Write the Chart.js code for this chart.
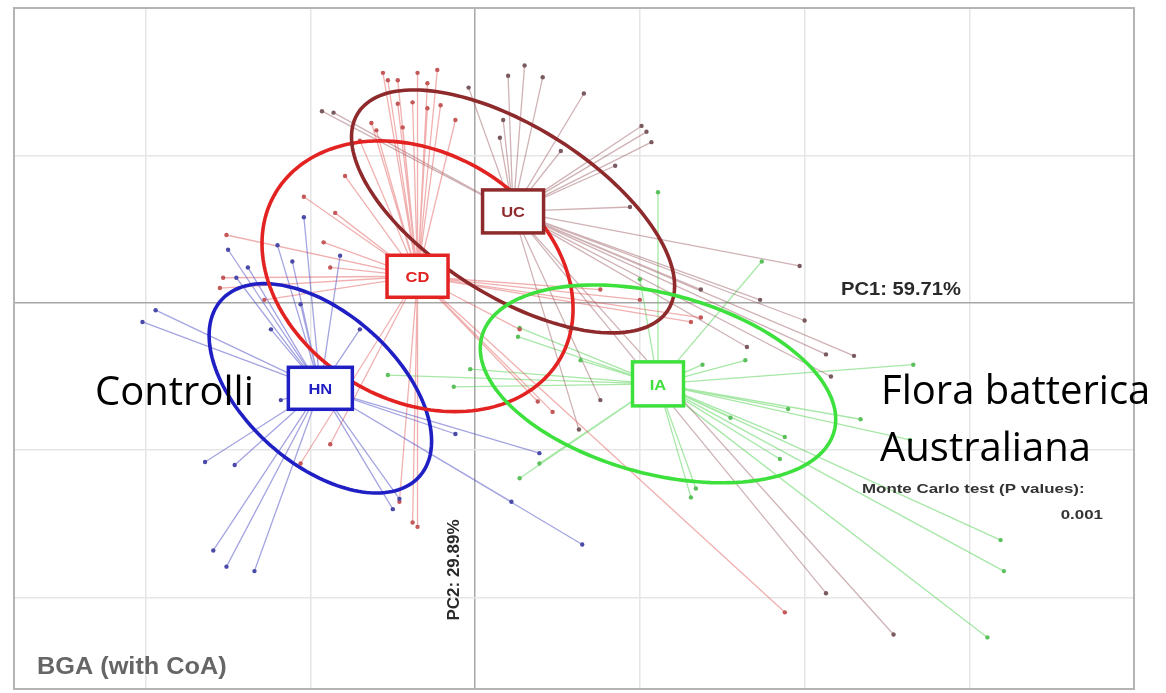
<!DOCTYPE html>
<html><head><meta charset="utf-8">
<script src="https://cdn.jsdelivr.net/npm/chart.js@4.4.1/dist/chart.umd.min.js"></script>
<style>html,body{margin:0;padding:0;background:#fff;}canvas{display:block;}</style>
</head><body>
<canvas id="c" width="1166" height="693"></canvas>
<script>
// ---- tick positions ----
const xTicks = [-2, -1, 0, 1, 2, 3, 4];
const yTicks = [-2, -1, 0, 1, 2];
// ---- groups ----
const groupNames = ['HN', 'CD', 'UC', 'IA'];
const centerX = [-0.94, -0.35, 0.23, 1.11];
const centerY = [-0.58, 0.18, 0.62, -0.55];
// ---- sample scores (PC1, PC2) ----
const hnX = [-1.04,-1.20,-1.50,-1.11,-0.82,-1.45,-1.38,-1.94,-2.02,-1.64,-1.46,-1.59,-1.51,-1.34,-0.50,-0.46,-1.18,0.65,0.22,-0.12,0.39,-1.06,-1.24,-0.70];
const hnY = [0.58,0.39,0.36,0.28,0.32,0.17,0.24,-0.05,-0.13,-1.08,-1.10,-1.68,-1.79,-1.82,-1.40,-1.33,-0.66,-1.64,-1.35,-0.89,-1.02,-0.01,-0.18,-0.18];
const cdX = [-0.56,-0.53,-0.47,-0.35,-0.29,-0.23,-0.63,-0.47,-0.38,-0.29,-0.21,-0.44,-0.60,-1.51,-1.04,-0.85,-0.92,-0.88,-1.53,-1.55,-1.06,-0.38,-0.46,-0.35,-0.88,1.37,1.31,0.38,0.47,1.88,0.27,-0.70,-0.12,-0.79,-1.28,0.76,1.00];
const cdY = [1.56,1.51,1.51,1.56,1.49,1.58,1.22,1.35,1.36,1.32,1.34,1.19,1.17,0.46,0.72,0.61,0.41,0.24,0.17,0.10,-1.09,-1.49,-1.35,-1.52,-0.96,-0.10,-0.13,-0.67,-0.74,-2.10,-0.18,1.10,1.24,0.86,0.02,0.09,0.02];
const ucX = [0.20,0.30,0.41,0.66,0.15,0.17,1.01,1.04,1.07,0.94,1.97,2.00,1.65,2.13,2.30,2.16,-0.93,-0.86,2.54,2.13,0.63,0.76,-0.04,0.52,0.85,1.37,1.73];
const ucY = [1.54,1.61,1.53,1.42,1.12,1.24,1.20,1.16,1.09,0.65,0.25,-0.12,-0.30,-0.35,-0.36,-0.50,1.30,1.29,-2.25,-1.97,-0.86,-0.66,1.46,1.03,0.93,0.09,0.02];
const iaX = [1.74,1.11,2.66,3.19,3.21,3.11,1.38,1.64,1.90,1.88,1.85,1.55,0.27,0.26,-0.13,-0.53,0.27,0.39,1.31,1.34,2.64,2.34,1.00,0.64,-0.03];
const iaY = [0.28,0.75,-0.42,-1.61,-1.82,-2.27,-0.42,-0.39,-0.72,-0.91,-1.06,-0.78,-0.17,-0.23,-0.57,-0.49,-1.19,-1.09,-1.32,-1.26,-0.93,-0.79,0.16,-0.39,-0.45];
// ---- ellipse half-axis vectors (data units) ----
const ellAx = [0.60, 0.86, 0.94, 1.07];
const ellAy = [-0.60, -0.57, -0.67, -0.32];
const ellBx = [-0.31, -0.39, -0.28, -0.14];
const ellBy = [-0.38, -0.72, -0.48, -0.59];
// ---- styles ----
const ellColor = ['#1f1fc4', '#e32222', '#8e2a2c', '#3ee03e'];
const lineColor = ['rgba(90,90,200,0.55)', 'rgba(225,80,80,0.45)', 'rgba(150,85,90,0.45)', 'rgba(80,210,80,0.5)'];
const dotColor = ['#4a4aa8', '#c45858', '#7a5a5e', '#5cc05c'];
const boxW = [64, 61, 61, 51];
const boxH = [42, 42, 43, 44];

const xs = [hnX, cdX, ucX, iaX];
const ys = [hnY, cdY, ucY, iaY];

const datasets = [];
for (let g = 0; g < 4; g++) {
  datasets.push({
    data: xs[g].map((v, i) => ({x: v, y: ys[g][i]})),
    showLine: false, pointRadius: 2.2, pointBackgroundColor: dotColor[g],
    pointBorderWidth: 0, order: 0
  });
}
for (let g = 0; g < 4; g++) {
  const seg = [];
  xs[g].forEach((v, i) => {
    seg.push({x: centerX[g], y: centerY[g]});
    seg.push({x: v, y: ys[g][i]});
    seg.push({x: v, y: null});
  });
  datasets.push({
    data: seg, showLine: true, spanGaps: false, pointRadius: 0,
    borderColor: lineColor[g], borderWidth: 1.3, order: 1
  });
}

function txt(ctx, s, x, y, font, color, align, sx, rot) {
  ctx.save();
  ctx.translate(x, y);
  if (rot) ctx.rotate(rot);
  ctx.scale(sx || 1, 1);
  ctx.font = font; ctx.fillStyle = color;
  ctx.textAlign = align || 'left'; ctx.textBaseline = 'alphabetic';
  ctx.fillText(s, 0, 0);
  ctx.restore();
}

const overlay = {
  id: 'overlay',
  beforeDatasetsDraw(chart) {
    const {ctx, chartArea: a} = chart;
    ctx.save();
    ctx.strokeStyle = '#b4b4b4'; ctx.lineWidth = 2;
    ctx.strokeRect(a.left, a.top, a.right - a.left, a.bottom - a.top);
    ctx.restore();
  },
  afterDatasetsDraw(chart) {
    const {ctx} = chart;
    const sx = chart.scales.x, sy = chart.scales.y;
    for (let g = 0; g < 4; g++) {
      ctx.save();
      ctx.beginPath();
      for (let k = 0; k <= 160; k++) {
        const t = 2 * Math.PI * k / 160;
        const dx = centerX[g] + Math.cos(t) * ellAx[g] + Math.sin(t) * ellBx[g];
        const dy = centerY[g] + Math.cos(t) * ellAy[g] + Math.sin(t) * ellBy[g];
        const px = sx.getPixelForValue(dx), py = sy.getPixelForValue(dy);
        if (k === 0) ctx.moveTo(px, py); else ctx.lineTo(px, py);
      }
      ctx.closePath();
      ctx.strokeStyle = ellColor[g]; ctx.lineWidth = 3.6;
      ctx.stroke();
      ctx.restore();
    }
    for (let g = 0; g < 4; g++) {
      const px = sx.getPixelForValue(centerX[g]), py = sy.getPixelForValue(centerY[g]);
      ctx.save();
      ctx.fillStyle = '#fff';
      ctx.fillRect(px - boxW[g] / 2, py - boxH[g] / 2, boxW[g], boxH[g]);
      ctx.strokeStyle = ellColor[g]; ctx.lineWidth = 3.5;
      ctx.strokeRect(px - boxW[g] / 2, py - boxH[g] / 2, boxW[g], boxH[g]);
      ctx.restore();
      txt(ctx, groupNames[g], px, py + 6, 'bold 15px "Liberation Sans", Arial', ellColor[g], 'center', 1.1);
    }
    txt(ctx, 'PC1: 59.71%', 841, 295, 'bold 18px "Liberation Sans", Arial', '#2a2a2a', 'left', 1.12);
    txt(ctx, 'PC2: 29.89%', 459, 570, 'bold 17px "Liberation Sans", Arial', '#2a2a2a', 'center', 1, -Math.PI / 2);
    txt(ctx, 'Monte Carlo test (P values):', 862, 493, 'bold 13px "Liberation Sans", Arial', '#333', 'left', 1.3);
    txt(ctx, '0.001', 1103, 519, 'bold 13px "Liberation Sans", Arial', '#333', 'right', 1.3);
    txt(ctx, 'BGA (with CoA)', 37, 674, 'bold 23px "Liberation Sans", Arial', '#666', 'left', 1.1);
    txt(ctx, 'Controlli', 95, 405, '40px "Open Sans"', '#000', 'left', 1);
    txt(ctx, 'Flora batterica', 881, 404, '40px "Open Sans"', '#000', 'left', 1);
    txt(ctx, 'Australiana', 880, 461, '40px "Open Sans"', '#000', 'left', 1);
  }
};

new Chart(document.getElementById('c'), {
  type: 'scatter',
  data: {datasets},
  options: {
    responsive: false, animation: false, devicePixelRatio: 1,
    layout: {padding: {left: 14, right: 32, top: 8, bottom: 2}},
    plugins: {legend: {display: false}, tooltip: {enabled: false}},
    scales: {
      x: {
        type: 'linear', min: -2.8, max: 4.0,
        afterBuildTicks: s => { s.ticks = xTicks.map(v => ({value: v})); },
        ticks: {display: false},
        grid: {drawTicks: false, lineWidth: 1.5,
          color: c => (c.tick && c.tick.value === 0) ? '#a6a6a6' : '#e6e6e6'},
        border: {display: false}
      },
      y: {
        type: 'linear', min: -2.62, max: 2.0,
        afterBuildTicks: s => { s.ticks = yTicks.map(v => ({value: v})); },
        ticks: {display: false},
        grid: {drawTicks: false, lineWidth: 1.5,
          color: c => (c.tick && c.tick.value === 0) ? '#a6a6a6' : '#e6e6e6'},
        border: {display: false}
      }
    }
  },
  plugins: [overlay]
});
</script>
</body></html>
